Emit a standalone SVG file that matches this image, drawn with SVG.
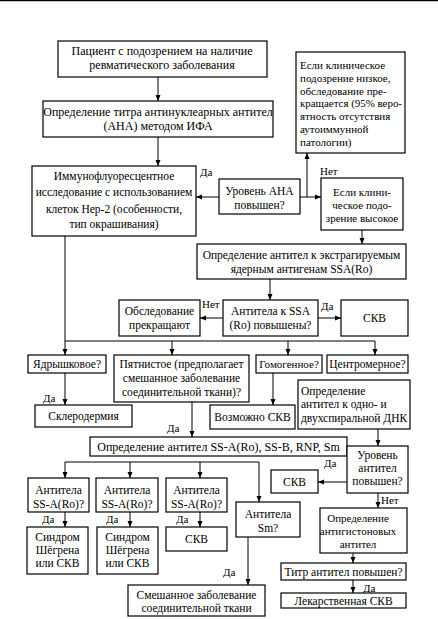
<svg xmlns="http://www.w3.org/2000/svg" width="438" height="619" viewBox="0 0 438 619" font-family="'Liberation Serif', 'Times New Roman', serif">
<style>
rect{fill:#fff;stroke:#000;stroke-width:1.2}
text{font-family:'Liberation Serif','Times New Roman',serif;font-size:12px;fill:#000}
.c{text-anchor:middle}
.m{font-size:11.5px}
.k{font-size:11px}
#conn line,#conn polyline{stroke:#000;stroke-width:1;fill:none}
.ar{marker-end:url(#a)}
</style>
<defs>
<marker id="a" markerWidth="6" markerHeight="6" refX="6" refY="3" orient="auto" markerUnits="userSpaceOnUse"><path d="M0,0.5 L6,3 L0,5.5 z" fill="#000"/></marker>
</defs>
<rect x="0" y="0" width="438" height="619" style="stroke:none"/>
<line x1="0" y1="0.5" x2="438" y2="0.5" stroke="#000" stroke-width="1.5"/>
<g id="conn">
<line class="ar" x1="158" y1="77" x2="158" y2="101"/>
<line class="ar" x1="158" y1="137" x2="158" y2="166"/>
<line class="ar" x1="219" y1="197" x2="196" y2="197"/>
<line class="ar" x1="300" y1="197" x2="321" y2="197"/>
<line class="ar" x1="307" y1="197" x2="307" y2="153"/>
<line class="ar" x1="362" y1="230" x2="362" y2="244"/>
<line class="ar" x1="270" y1="279" x2="270" y2="300"/>
<line class="ar" x1="223" y1="318" x2="200" y2="318"/>
<line class="ar" x1="318" y1="318" x2="341" y2="318"/>
<polyline points="65,236 65,341 375,341"/>
<line class="ar" x1="65" y1="341" x2="65" y2="355"/>
<line class="ar" x1="172" y1="341" x2="172" y2="355"/>
<line class="ar" x1="288" y1="341" x2="288" y2="355"/>
<line class="ar" x1="375" y1="341" x2="375" y2="355"/>
<line class="ar" x1="65" y1="373" x2="65" y2="405"/>
<line class="ar" x1="192" y1="402" x2="192" y2="437"/>
<line class="ar" x1="273" y1="373" x2="273" y2="405"/>
<line class="ar" x1="378" y1="429" x2="378" y2="446"/>
<line x1="65" y1="462" x2="259" y2="462"/>
<line class="ar" x1="65" y1="462" x2="65" y2="478"/>
<line class="ar" x1="130" y1="462" x2="130" y2="478"/>
<line class="ar" x1="200" y1="462" x2="200" y2="478"/>
<line class="ar" x1="259" y1="462" x2="259" y2="502"/>
<line class="ar" x1="65" y1="512" x2="65" y2="527"/>
<line class="ar" x1="130" y1="512" x2="130" y2="527"/>
<line class="ar" x1="200" y1="512" x2="200" y2="527"/>
<line class="ar" x1="248" y1="537" x2="248" y2="585"/>
<line class="ar" x1="347" y1="482" x2="318" y2="482"/>
<line class="ar" x1="378" y1="493" x2="378" y2="508"/>
<line class="ar" x1="353" y1="553" x2="353" y2="563"/>
<line class="ar" x1="353" y1="580" x2="353" y2="593"/>
<text class="k" x="200" y="176">Да</text>
<text class="k" x="320" y="175">Нет</text>
<text class="k" x="202" y="308">Нет</text>
<text class="k" x="321" y="310">Да</text>
<text class="k" x="43" y="402">Да</text>
<text class="k" x="167" y="432">Да</text>
<text class="k" x="42" y="523">Да</text>
<text class="k" x="106" y="523">Да</text>
<text class="k" x="176" y="523">Да</text>
<text class="k" x="223" y="576">Да</text>
<text class="k" x="324" y="467">Да</text>
<text class="k" x="381" y="504">Нет</text>
<text class="k" x="363" y="592">Да</text>
</g>
<g id="n1"><rect x="58" y="41" width="209" height="36"/><text class="c" x="162" y="55">Пациент с подозрением на наличие</text><text class="c" x="162" y="69">ревматического заболевания</text></g>
<g id="n2"><rect x="43" y="101" width="230" height="36"/><text class="c" x="158" y="116">Определение титра антинуклеарных антител</text><text class="c" x="158" y="130">(АНА) методом ИФА</text></g>
<g id="n3"><rect x="296" y="52" width="109" height="101"/><text class="k" x="300" y="69">Если клиническое</text><text class="k" x="300" y="82">подозрение низкое,</text><text class="k" x="300" y="95">обследование пре-</text><text class="k" x="300" y="107" textLength="102" lengthAdjust="spacingAndGlyphs">кращается (95% веро-</text><text class="k" x="300" y="120">ятность отсутствия</text><text class="k" x="300" y="133">аутоиммунной</text><text class="k" x="300" y="146">патологии)</text></g>
<g id="n4"><rect x="32" y="166" width="164" height="70"/><text class="c m" x="114" y="180">Иммунофлуоресцентное</text><text class="c m" x="114" y="196">исследование с использованием</text><text class="c m" x="114" y="213">клеток Нер-2 (особенности,</text><text class="c m" x="114" y="228">тип окрашивания)</text></g>
<g id="n5"><rect x="219" y="179" width="81" height="35"/><text class="c m" x="259.5" y="195">Уровень АНА</text><text class="c m" x="259.5" y="209">повышен?</text></g>
<g id="n6"><rect x="321" y="178" width="82" height="52"/><text class="c k" x="362" y="196">Если клини-</text><text class="c k" x="362" y="209">ческое подо-</text><text class="c k" x="362" y="222">зрение высокое</text></g>
<g id="n7"><rect x="197" y="244" width="209" height="35"/><text class="c m" x="301.5" y="259">Определение антител к экстрагируемым</text><text class="c m" x="301.5" y="273">ядерным антигенам SSA(Ro)</text></g>
<g id="n8"><rect x="119" y="300" width="81" height="36"/><text class="c m" x="159.5" y="315">Обследование</text><text class="c m" x="159.5" y="329">прекращают</text></g>
<g id="n9"><rect x="223" y="300" width="95" height="36"/><text class="c m" x="270.5" y="315">Антитела к SSA</text><text class="c m" x="270.5" y="329">(Ro) повышены?</text></g>
<g id="n10"><rect x="341" y="300" width="67" height="36"/><text class="c m" x="374.5" y="322">СКВ</text></g>
<g id="n11"><rect x="28" y="355" width="78" height="18"/><text class="c m" x="67" y="368">Ядрышковое?</text></g>
<g id="n12"><rect x="114" y="355" width="135" height="47"/><text class="c m" x="181.5" y="368">Пятнистое (предполагает</text><text class="c m" x="181.5" y="382">смешанное заболевание</text><text class="c m" x="181.5" y="396">соединительной ткани)?</text></g>
<g id="n13"><rect x="256" y="355" width="66" height="18"/><text class="c k" x="289" y="368">Гомогенное?</text></g>
<g id="n14"><rect x="327" y="355" width="81" height="18"/><text class="c m" x="367.5" y="368">Центромерное?</text></g>
<g id="n15"><rect x="35" y="405" width="97" height="22"/><text class="c m" x="83.5" y="420">Склеродермия</text></g>
<g id="n16"><rect x="210" y="405" width="85" height="24"/><text class="c m" x="252.5" y="421">Возможно СКВ</text></g>
<g id="n17"><rect x="298" y="380" width="112" height="49"/><text class="m" x="301" y="395">Определение</text><text class="m" x="301" y="408">антител к одно- и</text><text class="m" x="301" y="422">двухспиральной ДНК</text></g>
<g id="n18"><rect x="90" y="437" width="257" height="19"/><text class="c" x="218.5" y="451">Определение антител SS-A(Ro), SS-B, RNP, Sm</text></g>
<g id="n19"><rect x="28" y="478" width="61" height="34"/><text class="c m" x="58.5" y="494">Антитела</text><text class="c m" x="58.5" y="508">SS-A(Ro)?</text></g>
<g id="n20"><rect x="96" y="478" width="62" height="34"/><text class="c m" x="127" y="494">Антитела</text><text class="c m" x="127" y="508">SS-A(Ro)?</text></g>
<g id="n21"><rect x="166" y="478" width="61" height="34"/><text class="c m" x="196.5" y="494">Антитела</text><text class="c m" x="196.5" y="508">SS-A(Ro)?</text></g>
<g id="n22"><rect x="27" y="527" width="61" height="47"/><text class="c m" x="57.5" y="541">Синдром</text><text class="c m" x="57.5" y="554">Шёгрена</text><text class="c m" x="57.5" y="567">или СКВ</text></g>
<g id="n23"><rect x="97" y="527" width="61" height="47"/><text class="c m" x="127.5" y="541">Синдром</text><text class="c m" x="127.5" y="554">Шёгрена</text><text class="c m" x="127.5" y="567">или СКВ</text></g>
<g id="n24"><rect x="166" y="527" width="61" height="24"/><text class="c m" x="196.5" y="543">СКВ</text></g>
<g id="n25"><rect x="236" y="502" width="64" height="35"/><text class="c m" x="268" y="518">Антитела</text><text class="c m" x="268" y="532">Sm?</text></g>
<g id="n26"><rect x="128" y="585" width="137" height="31"/><text class="c m" x="196.5" y="599">Смешанное заболевание</text><text class="c m" x="196.5" y="612">соединительной ткани</text></g>
<g id="n27"><rect x="347" y="446" width="61" height="47"/><text class="c m" x="377.5" y="459">Уровень</text><text class="c m" x="377.5" y="472">антител</text><text class="c m" x="377.5" y="485">повышен?</text></g>
<g id="n28"><rect x="271" y="470" width="47" height="23"/><text class="c m" x="294.5" y="486">СКВ</text></g>
<g id="n29"><rect x="320" y="508" width="87" height="45"/><text class="c k" x="358" y="522">Определение</text><text class="c k" x="358" y="535">антигистоновых</text><text class="c k" x="358" y="548">антител</text></g>
<g id="n30"><rect x="281" y="563" width="125" height="17"/><text class="c m" x="343.5" y="576">Титр антител повышен?</text></g>
<g id="n31"><rect x="281" y="593" width="125" height="15"/><text class="c m" x="343.5" y="605">Лекарственная СКВ</text></g>
</svg>
